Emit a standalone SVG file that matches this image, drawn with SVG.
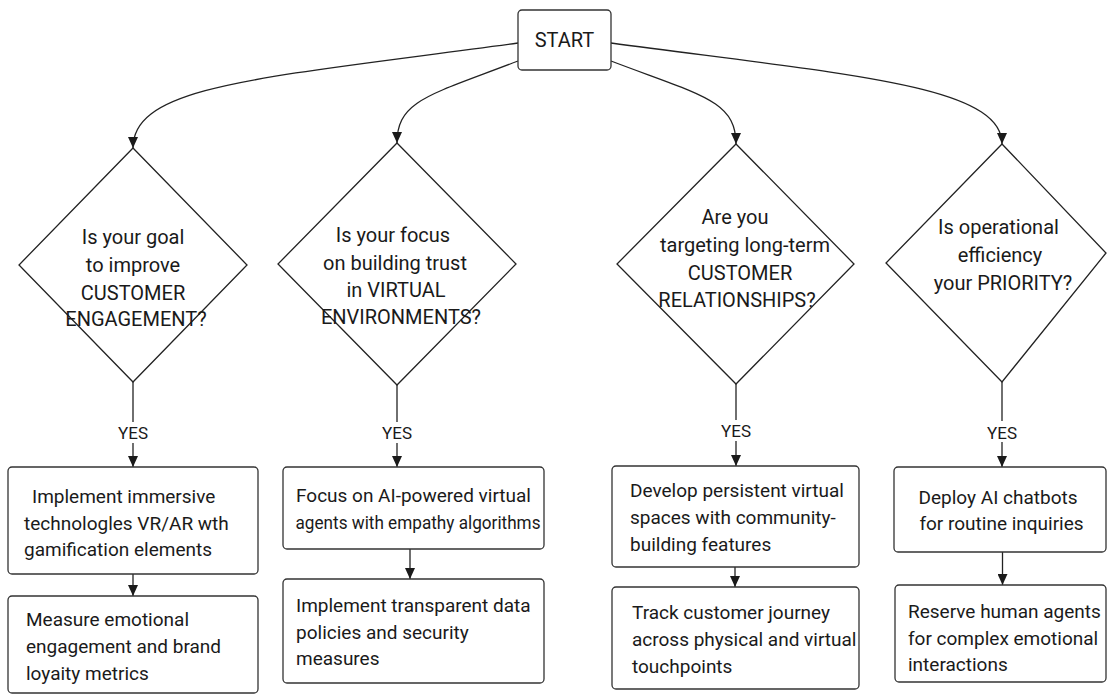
<svg xmlns="http://www.w3.org/2000/svg" width="1107" height="694" viewBox="0 0 1107 694">
<defs>
<marker id="arr" markerUnits="userSpaceOnUse" markerWidth="11" markerHeight="10" viewBox="0 0 11 10" refX="11" refY="5" orient="auto">
<path d="M0,0 L11,5 L0,10 Z" fill="#1a1a1a"/>
</marker>
<style>
.bg{fill:#ffffff}
.box{fill:#ffffff;stroke:#333;stroke-width:1.3}
.dia{fill:#ffffff;stroke:#222;stroke-width:1.3}
.ln{fill:none;stroke:#222;stroke-width:1.3}
.ar{marker-end:url(#arr)}
.t{font-family:Roboto,"Liberation Sans",sans-serif;fill:#1a1a1a}
.q{font-size:20px;text-anchor:middle}
.b{font-size:19px}
.c{text-anchor:middle}
.yes{font-size:17px;text-anchor:middle}
</style>
</defs>
<rect class="bg" x="0" y="0" width="1107" height="694"/>

<g id="connectors">
<path class="ln ar" d="M518,43 C260,78 133,85 133,148"/>
<path class="ln ar" d="M518,61 C430,95 397,100 397,143"/>
<path class="ln ar" d="M611,43 C850,75 1002,85 1002,144"/>
<path class="ln ar" d="M611,61 C700,95 736,100 736,144"/>
<path class="ln" d="M133,382 V422"/>
<path class="ln ar" d="M133,443 V467"/>
<path class="ln" d="M397,385 V422"/>
<path class="ln ar" d="M397,443 V467"/>
<path class="ln" d="M736,384 V420"/>
<path class="ln ar" d="M736,441 V466"/>
<path class="ln" d="M1002,382 V421"/>
<path class="ln ar" d="M1002,442 V467"/>
<path class="ln ar" d="M133,574 V596"/>
<path class="ln ar" d="M410,549 V579"/>
<path class="ln ar" d="M735,567 V587"/>
<path class="ln ar" d="M1002.5,552 V585"/>
<text class="t yes" x="133" y="439">YES</text>
<text class="t yes" x="397" y="439">YES</text>
<text class="t yes" x="736" y="437">YES</text>
<text class="t yes" x="1002" y="439">YES</text>
</g>

<g id="start">
<rect class="box" x="518" y="10" width="93" height="60" rx="4"/>
<text class="t c" x="564.5" y="47" style="font-size:20px">START</text>
</g>

<g id="q1">
<polygon class="dia" points="133,148 247,265 133,382 19,265"/>
<text class="t q" x="133" y="244">Is your goal</text>
<text class="t q" x="133" y="272">to improve</text>
<text class="t q" x="133" y="299.5">CUSTOMER</text>
<text class="t q" x="136" y="326">ENGAGEMENT?</text>
</g>

<g id="q2">
<polygon class="dia" points="397,143 516,264 397,385 278,264"/>
<text class="t q" x="393" y="242">Is your focus</text>
<text class="t q" x="395" y="269.5">on building trust</text>
<text class="t q" x="396" y="297">in VIRTUAL</text>
<text class="t q" x="401" y="324">ENVIRONMENTS?</text>
</g>

<g id="q3">
<polygon class="dia" points="736,144 854,264 736,384 617,264"/>
<text class="t q" x="735" y="224">Are you</text>
<text class="t q" x="745" y="252">targeting long-term</text>
<text class="t q" x="740" y="280">CUSTOMER</text>
<text class="t q" x="737" y="307">RELATIONSHIPS?</text>
</g>

<g id="q4">
<polygon class="dia" points="1002,144 1106,253 1002,382 886,263"/>
<text class="t q" x="998.5" y="234">Is operational</text>
<text class="t q" x="1000" y="262">efficiency</text>
<text class="t q" x="1003" y="290">your PRIORITY?</text>
</g>

<g id="a1">
<rect class="box" x="8" y="467" width="250" height="107" rx="4"/>
<text class="t b" x="32" y="503">Implement immersive</text>
<text class="t b" x="24" y="529.5">technologles VR/AR wth</text>
<text class="t b" x="24" y="556">gamification elements</text>
</g>
<g id="a1b">
<rect class="box" x="8" y="596" width="250" height="97" rx="4"/>
<text class="t b" x="26" y="626">Measure emotional</text>
<text class="t b" x="26" y="653">engagement and brand</text>
<text class="t b" x="26" y="680">loyaity metrics</text>
</g>

<g id="a2">
<rect class="box" x="283" y="467" width="261" height="82" rx="4"/>
<text class="t b" x="296" y="502">Focus on AI-powered virtual</text>
<text class="t b" x="295.5" y="529" textLength="245" lengthAdjust="spacingAndGlyphs">agents with empathy algorithms</text>
</g>
<g id="a2b">
<rect class="box" x="283" y="579" width="261" height="104" rx="4"/>
<text class="t b" x="296" y="612">Implement transparent data</text>
<text class="t b" x="296" y="638.5">policies and security</text>
<text class="t b" x="296" y="665">measures</text>
</g>

<g id="a3">
<rect class="box" x="612" y="466" width="247" height="101" rx="4"/>
<text class="t b" x="630" y="497">Develop persistent virtual</text>
<text class="t b" x="630" y="524">spaces with community-</text>
<text class="t b" x="630" y="551">building features</text>
</g>
<g id="a3b">
<rect class="box" x="612" y="587" width="247" height="102" rx="4"/>
<text class="t b" x="632" y="618.5">Track customer journey</text>
<text class="t b" x="632" y="645.5">across physical and virtual</text>
<text class="t b" x="632" y="672.5">touchpoints</text>
</g>

<g id="a4">
<rect class="box" x="894" y="467" width="212" height="85" rx="4"/>
<text class="t b c" x="998" y="503.5">Deploy AI chatbots</text>
<text class="t b c" x="1001.5" y="530">for routine inquiries</text>
</g>
<g id="a4b">
<rect class="box" x="895" y="585" width="211" height="97" rx="4"/>
<text class="t b" x="908" y="617.5">Reserve human agents</text>
<text class="t b" x="908" y="644.5">for complex emotional</text>
<text class="t b" x="908" y="671">interactions</text>
</g>
</svg>
